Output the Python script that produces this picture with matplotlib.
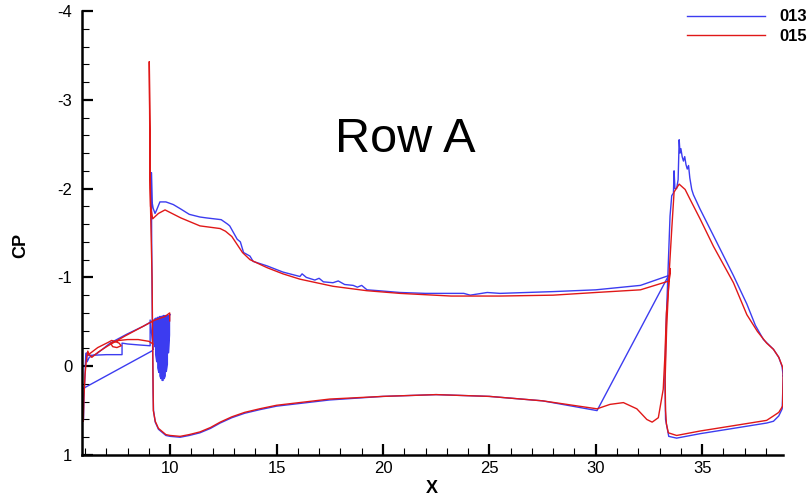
import matplotlib
matplotlib.use("Agg")
import matplotlib.pyplot as plt
from matplotlib.ticker import MultipleLocator, FormatStrFormatter

plt.rcParams['font.family'] = ['Liberation Sans', 'DejaVu Sans']
plt.rcParams['axes.unicode_minus'] = False

# ---- case 013 (blue) ----
# main element: upper surface TE -> LE, spike, lower surface -> x=30, jump back to TE
x013_main = [33.42, 32.1, 30.0, 28.0, 25.5, 24.9, 24.1, 23.8, 22.0, 20.8, 19.8, 19.25, 19.0, 18.8,
             18.6, 18.2, 17.9, 17.65, 17.2, 17.0, 16.8, 16.4, 16.2, 16.1, 15.3, 14.55, 13.9, 13.75,
             13.45, 13.3, 13.15, 12.8, 12.7, 12.4, 11.7, 11.4, 10.9, 10.5, 10.15, 9.8, 9.52, 9.35,
             9.29, 9.2, 9.15, 9.12, 9.13, 9.16, 9.2, 9.22, 9.3, 9.45, 9.8, 10.0, 10.47, 10.9, 11.4,
             11.9, 12.35, 12.9, 13.5, 14.2, 15.0, 17.5, 20.0, 22.5, 25.0, 27.5, 30.06, 33.42]
y013_main = [-1.02, -0.91, -0.86, -0.84, -0.82, -0.83, -0.80, -0.82, -0.82, -0.83, -0.85, -0.86, -0.91, -0.89,
             -0.91, -0.92, -0.96, -0.94, -0.95, -0.99, -0.97, -1.0, -1.04, -1.01, -1.06, -1.13, -1.18, -1.24,
             -1.28, -1.40, -1.43, -1.58, -1.60, -1.65, -1.67, -1.68, -1.71, -1.77, -1.82, -1.85, -1.85, -1.75,
             -1.72, -1.78, -1.85, -2.18, -1.5, -0.6, 0.3, 0.5, 0.63, 0.71, 0.78, 0.79, 0.80, 0.78, 0.75,
             0.70, 0.64, 0.58, 0.53, 0.49, 0.45, 0.38, 0.34, 0.32, 0.34, 0.39, 0.50, -1.02]

# flap
x013_flap = [38.81, 38.75, 38.6, 38.35, 37.88, 37.5, 37.1, 36.47, 35.53, 34.9, 34.59, 34.51, 34.42,
             34.36, 34.3, 34.24, 34.18, 34.12, 34.06, 34.0, 33.96, 33.92, 33.87, 33.8, 33.72, 33.68,
             33.65, 33.57, 33.49, 33.4, 33.3, 33.25, 33.28, 33.43, 33.8, 34.9, 36.47, 38.03, 38.35,
             38.6, 38.76, 38.81]
y013_flap = [0.11, 0.0, -0.1, -0.19, -0.30, -0.46, -0.70, -1.02, -1.47, -1.77, -1.93, -1.99, -2.12,
             -2.26, -2.22, -2.27, -2.36, -2.31, -2.36, -2.45, -2.40, -2.55, -2.1, -2.0, -2.0, -2.2,
             -1.95, -1.92, -1.69, -1.1, -0.42, 0.15, 0.6, 0.79, 0.81, 0.76, 0.70, 0.64, 0.62,
             0.56, 0.48, 0.11]

# slat upper side and hatched trailing edge
x013_slat = [5.93, 5.95, 6.0, 6.03, 6.06, 6.1, 6.2, 6.55, 7.18, 7.96, 8.74, 9.1, 9.22,
             9.22, 9.27, 9.27, 9.32, 9.32, 9.37, 9.37, 9.42, 9.42, 9.47, 9.47, 9.52, 9.52,
             9.57, 9.57, 9.62, 9.62, 9.67, 9.67, 9.72, 9.72, 9.77, 9.77, 9.82, 9.82, 9.87,
             9.87, 9.92, 9.92, 9.97, 9.97, 10.0]
y013_slat = [0.6, 0.35, 0.1, -0.1, -0.15, -0.05, -0.10, -0.14, -0.26, -0.36, -0.45, -0.50, -0.52,
             -0.30, -0.22, -0.53, -0.54, -0.13, -0.05, -0.54, -0.55, 0.02, 0.07, -0.55, -0.56, 0.11,
             0.14, -0.56, -0.56, 0.16, 0.16, -0.57, -0.57, 0.14, 0.11, -0.57, -0.57, 0.06, -0.02,
             -0.57, -0.57, -0.15, -0.35, -0.57, -0.58]

# slat cove side
x013_cove = [6.05, 7.0, 7.74, 7.74, 8.0, 8.5, 9.06, 9.06, 9.21]
y013_cove = [-0.12, -0.13, -0.13, -0.26, -0.25, -0.24, -0.23, -0.52, -0.19]

# connector line
x013_link = [5.92, 9.13]
y013_link = [0.25, -0.17]

# ---- case 015 (red) ----
x015_main = [33.45, 32.1, 30.0, 28.0, 25.5, 23.2, 20.8, 19.25, 17.65, 16.1, 15.3, 14.55, 13.75,
             13.4, 12.9, 12.6, 12.35, 11.4, 10.5, 9.76, 9.45, 9.18, 9.08, 9.02, 9.06, 9.15, 9.21,
             9.3, 9.45, 9.8, 10.0, 10.47, 10.9, 11.4, 11.9, 12.35, 12.9, 13.5, 14.2, 15.0, 17.5,
             20.0, 22.5, 25.0, 27.5, 30.06, 30.67, 31.3, 31.93, 32.4, 32.65, 32.94, 33.17, 33.25,
             33.32, 33.5, 33.45]
y015_main = [-0.96, -0.86, -0.83, -0.80, -0.79, -0.79, -0.82, -0.85, -0.90, -0.98, -1.04, -1.11, -1.20,
             -1.28, -1.46, -1.52, -1.55, -1.58, -1.67, -1.76, -1.72, -1.66, -1.8, -3.43, -2.0, -1.0, 0.5,
             0.62, 0.70, 0.77, 0.78, 0.79, 0.77, 0.74, 0.69, 0.63, 0.57, 0.52, 0.48, 0.44, 0.37,
             0.34, 0.32, 0.34, 0.39, 0.48, 0.43, 0.41, 0.48, 0.60, 0.63, 0.58, 0.26, -0.12,
             -0.6, -1.1, -0.96]

x015_flap = [38.81, 38.78, 38.6, 38.35, 38.03, 37.6, 37.1, 36.47, 35.53, 34.9, 34.43, 34.2, 33.92,
             33.78, 33.68, 33.57, 33.46, 33.33, 33.26, 33.28, 33.32, 33.41, 33.8, 34.9, 36.47,
             38.03, 38.35, 38.6, 38.78, 38.81]
y015_flap = [0.03, 0.01, -0.1, -0.19, -0.26, -0.39, -0.58, -0.94, -1.35, -1.66, -1.88, -1.99, -2.05,
             -2.0, -1.96, -1.54, -1.09, -0.42, 0.15, 0.5, 0.65, 0.75, 0.78, 0.73, 0.67,
             0.61, 0.56, 0.52, 0.45, 0.03]

x015_slat = [5.92, 5.95, 6.0, 6.06, 6.13, 6.2, 6.32, 6.63, 7.08, 7.88, 8.66, 9.29, 9.76, 9.98, 9.98]
y015_slat = [0.62, 0.35, 0.10, -0.06, -0.17, -0.13, -0.10, -0.16, -0.23, -0.34, -0.44, -0.52, -0.56, -0.60, -0.51]

x015_cove = [6.16, 6.6, 7.1, 7.25, 7.4, 7.6, 7.7, 7.5, 7.3, 7.2, 7.6, 8.0, 8.5, 9.0, 9.2]
y015_cove = [-0.13, -0.21, -0.27, -0.29, -0.28, -0.26, -0.23, -0.21, -0.22, -0.26, -0.29, -0.30, -0.30, -0.28, -0.25]

blue = '#3c3cf0'
red = '#e01818'

fig = plt.figure(figsize=(8.09, 4.97), dpi=100)
ax = fig.add_axes([0.1014, 0.0845, 0.8665, 0.8934])

ax.plot(x013_main, y013_main, color=blue, lw=1.0, label='013')
ax.plot(x013_flap, y013_flap, color=blue, lw=1.0)
ax.plot(x013_slat, y013_slat, color=blue, lw=1.0)
ax.plot(x013_cove, y013_cove, color=blue, lw=1.0)
ax.plot(x013_link, y013_link, color=blue, lw=1.0)

ax.plot(x015_main, y015_main, color=red, lw=1.0, label='015')
ax.plot(x015_flap, y015_flap, color=red, lw=1.0)
ax.plot(x015_slat, y015_slat, color=red, lw=1.0)
ax.plot(x015_cove, y015_cove, color=red, lw=1.0)

ax.set_xlim(5.86, 38.8)
ax.set_ylim(1, -4)

for s in ['top', 'right']:
    ax.spines[s].set_visible(False)
for s in ['left', 'bottom']:
    ax.spines[s].set_linewidth(1.8)

ax.xaxis.set_major_locator(MultipleLocator(5))
ax.xaxis.set_minor_locator(MultipleLocator(1))
ax.yaxis.set_major_locator(MultipleLocator(1))
ax.yaxis.set_minor_locator(MultipleLocator(0.2))
ax.yaxis.set_major_formatter(FormatStrFormatter('%d'))
ax.tick_params(which='major', direction='in', length=8, width=1.6, labelsize=12)
ax.tick_params(which='minor', direction='in', length=4.8, width=0.8)
ax.tick_params(axis='y', which='major', pad=7)
ax.tick_params(axis='x', which='major', pad=4)
ax.tick_params(top=False, right=False, which='both')

ax.set_xlabel('X', fontsize=13, fontweight='bold')
ax.set_ylabel('CP', fontsize=13, fontweight='bold')
ax.xaxis.set_label_coords(0.499, -0.075)
ax.xaxis.label.set_va('center')
ax.yaxis.set_label_coords(-0.088, 0.473)
ax.yaxis.label.set_va('center')

leg = ax.legend(loc='upper left', bbox_to_anchor=(687 / 809, 0.981), bbox_transform=fig.transFigure,
                frameon=False, borderpad=0, borderaxespad=0, handlelength=4.68, handletextpad=0.84,
                labelspacing=0.28, prop={'weight': 'bold', 'size': 12})

fig.text(0.414, 0.694, 'Row A', fontsize=35, va='baseline', ha='left')

fig.savefig('out.png', dpi=100)
